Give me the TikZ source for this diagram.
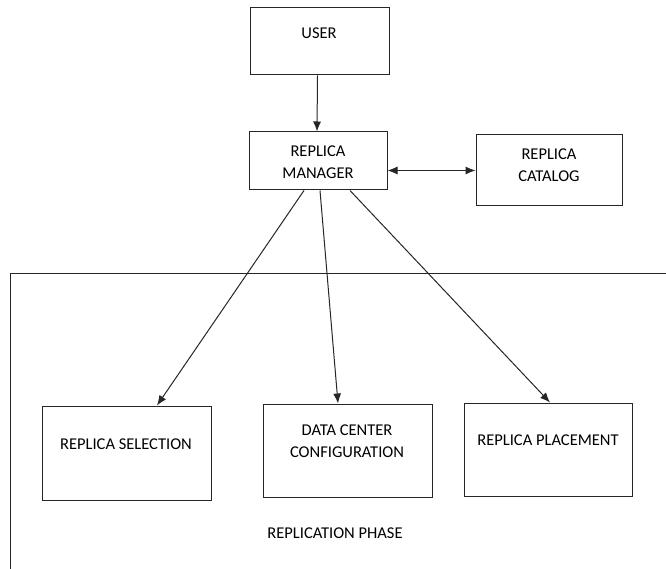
\documentclass[tikz,border=0pt]{standalone}
\usepackage{fontspec}
\setmainfont{Carlito}
\usetikzlibrary{arrows.meta,calc}
\begin{document}
\begin{tikzpicture}[x=1pt,y=-1pt,
  box/.style={draw=black!85,line width=1pt,inner sep=0pt},
  lbl/.style={align=center,font=\fontsize{16.5}{22}\selectfont,text=black,inner sep=0pt},
  arr/.style={draw=black!85,line width=1pt,-{Latex[length=10pt,width=8pt]}},
  darr/.style={draw=black!85,line width=1pt,{Latex[length=10pt,width=8pt]}-{Latex[length=10pt,width=8pt]}}]
\useasboundingbox (0,0) rectangle (666,569);
% frame
\coordinate (fr1) at (666,273);
\coordinate (fr2) at (10,273);
\coordinate (fr3) at (10,569);
\draw[draw=black!85,line width=1pt] (fr1) -- (fr2) -- (fr3);
% boxes
\node[box,minimum width=139,minimum height=67] (user) at (319.5,41.5) {};
\node[lbl] (userT) at (319,33) {USER};
\node[box,minimum width=138,minimum height=58] (mgr) at (318,161) {};
\node[lbl] (mgrT) at (318,162) {REPLICA\\MANAGER};
\node[box,minimum width=146,minimum height=71] (cat) at (549,170.5) {};
\node[lbl] (catT) at (549,165) {REPLICA\\CATALOG};
\node[box,minimum width=169,minimum height=94] (sel) at (126.5,453) {};
\node[lbl] (selT) at (126,444) {REPLICA SELECTION};
\node[box,minimum width=169,minimum height=93] (dc) at (347.5,450.5) {};
\node[lbl] (dcT) at (347,441) {DATA CENTER\\CONFIGURATION};
\node[box,minimum width=168,minimum height=93] (pl) at (548,449.5) {};
\node[lbl] (plT) at (548,440) {REPLICA PLACEMENT};
\node[lbl] (phase) at (335,533) {REPLICATION PHASE};
% connectors
\draw[arr] ([xshift=-2pt]user.south) -- ([xshift=-1pt]mgr.north);
\draw[darr] (mgr.east |- cat.west) -- (cat.west);
\draw[arr] ([xshift=-14pt]mgr.south) -- ([xshift=30.5pt]sel.north);
\draw[arr] ([xshift=2pt]mgr.south) -- ([xshift=-9.5pt]dc.north);
\draw[arr] ([xshift=32pt]mgr.south) -- ([xshift=2pt]pl.north);
\end{tikzpicture}
\end{document}
